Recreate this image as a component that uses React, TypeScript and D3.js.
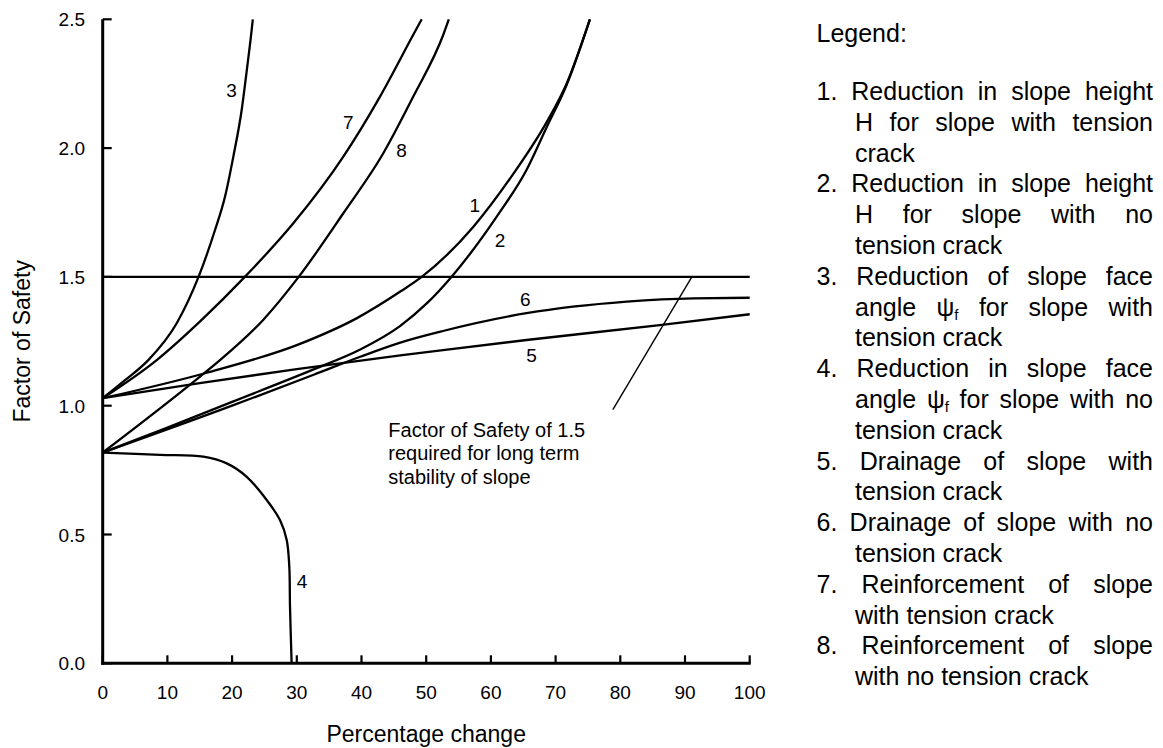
import React, { useMemo } from "react";
import * as d3 from "d3";

const FONT = "'Liberation Sans', Arial, Helvetica, sans-serif";

// ---- axis ticks ----
const xTicks = [0, 10, 20, 30, 40, 50, 60, 70, 80, 90, 100];
const yTicks = [0, 0.5, 1.0, 1.5, 2.0, 2.5];
const requiredFS = 1.5;

// ---- curves: [percentage change, factor of safety] ----
const c1 = [[0, 1.029], [15.8, 1.126], [30.5, 1.24], [39.3, 1.34], [46, 1.443], [49.3, 1.5], [57.3, 1.695], [63.46, 1.9], [68.6, 2.1], [71.7, 2.25], [75.3, 2.5]];
const c2 = [[0, 0.818], [10, 0.915], [20, 1.015], [32.5, 1.14], [39.8, 1.218], [46, 1.31], [50, 1.395], [53.9, 1.5], [60.9, 1.734], [65.5, 1.915], [68.6, 2.08], [71.7, 2.245], [75.3, 2.5]];
const c3 = [[0, 1.029], [3.5, 1.1], [7.05, 1.177], [11.44, 1.32], [14.78, 1.498], [17.36, 1.682], [18.9, 1.811], [20.19, 1.967], [21.48, 2.148], [22.26, 2.3], [23.03, 2.46], [23.2, 2.5]];
const c4 = [[0, 0.818], [8.86, 0.809], [15.55, 0.802], [19.17, 0.776], [22.26, 0.724], [25.35, 0.634], [27.4, 0.556], [28.44, 0.479], [28.84, 0.375], [28.95, 0.22], [29.2, 0]];
const c5 = [[0, 1.029], [15, 1.088], [30, 1.142], [46, 1.195], [52.6, 1.216], [65.5, 1.255], [86.1, 1.313], [100, 1.355]];
const c6 = [[0, 0.818], [20, 1.0], [32.6, 1.12], [39.8, 1.19], [46, 1.245], [52.6, 1.29], [65.5, 1.359], [81, 1.404], [91.3, 1.417], [100, 1.419]];
const c7 = [[0, 1.029], [8.35, 1.177], [15.3, 1.333], [21.89, 1.498], [29.46, 1.708], [37.19, 1.967], [42.86, 2.2], [48.0, 2.44], [49.3, 2.5]];
const c8 = [[0, 0.818], [15.04, 1.113], [18.13, 1.177], [24.8, 1.333], [30.23, 1.498], [37.19, 1.747], [43.37, 1.98], [48.0, 2.2], [52.64, 2.44], [53.5, 2.5]];
const smoothCurves = [c1, c2, c3, c5, c6, c7, c8];
const bentCurves = [c4];

// curve number labels, anchored in data coordinates
const curveLabels = [
  { id: "1", x: 57.5, y: 1.779 },
  { id: "2", x: 61.4, y: 1.643 },
  { id: "3", x: 19.9, y: 2.226 },
  { id: "4", x: 30.8, y: 0.32 },
  { id: "5", x: 66.3, y: 1.197 },
  { id: "6", x: 65.3, y: 1.416 },
  { id: "7", x: 37.96, y: 2.103 },
  { id: "8", x: 46.2, y: 1.992 },
];

// leader line from the 1.5 line to the note
const leader = [[91.06, 1.5], [78.85, 0.985]];
const noteLines = ["Factor of Safety of 1.5", "required for long term", "stability of slope"];

const xTitle = "Percentage change";
const yTitle = "Factor of Safety";
const legendTitle = "Legend:";
const legendItems = [
  { num: "1.", lines: ["Reduction in slope height", "H for slope with tension", "crack"] },
  { num: "2.", lines: ["Reduction in slope height", "H for slope with no", "tension crack"] },
  { num: "3.", lines: ["Reduction of slope face", "angle ψf for slope with", "tension crack"] },
  { num: "4.", lines: ["Reduction in slope face", "angle ψf for slope with no", "tension crack"] },
  { num: "5.", lines: ["Drainage of slope with", "tension crack"] },
  { num: "6.", lines: ["Drainage of slope with no", "tension crack"] },
  { num: "7.", lines: ["Reinforcement of slope", "with tension crack"] },
  { num: "8.", lines: ["Reinforcement of slope", "with no tension crack"] },
];

const W = 1163;
const H = 748;
const LEG_FONT = 25;
const SUB_FONT = 15;
const LEG_NUM_X = 816.5;
const LEG_TEXT_X = 855;
const LEG_RIGHT = 1153;
const LEG_TITLE_Y = 42;
const LEG_FIRST_Y = 100;
const LEG_STEP = 30.8;

let ctx: CanvasRenderingContext2D | null = null;
function measure(t: string, size: number) {
  if (!ctx) ctx = document.createElement("canvas").getContext("2d");
  if (!ctx) return t.length * size * 0.5;
  ctx.font = `${size}px ${FONT}`;
  return ctx.measureText(t).width;
}
function wordWidth(w: string) {
  if (w.includes("ψf")) return measure("ψ", LEG_FONT) + measure("f", SUB_FONT);
  return measure(w, LEG_FONT);
}

function Word({ w, x, y }: { w: string; x: number; y: number }) {
  if (w.includes("ψf")) {
    return (
      <text x={x} y={y} fontSize={LEG_FONT}>
        ψ<tspan fontSize={SUB_FONT} dy={4}>f</tspan>
      </text>
    );
  }
  return (
    <text x={x} y={y} fontSize={LEG_FONT}>
      {w}
    </text>
  );
}

export default function App() {
  const x = d3.scaleLinear().domain([0, 100]).range([102.7, 749.7]);
  const y = d3.scaleLinear().domain([0, 2.5]).range([663.3, 19.3]);
  const smooth = d3
    .line<number[]>()
    .x((d) => x(d[0]))
    .y((d) => y(d[1]))
    .curve(d3.curveMonotoneX);
  const bent = d3
    .line<number[]>()
    .x((d) => x(d[0]))
    .y((d) => y(d[1]))
    .curve(d3.curveCatmullRom.alpha(0.5));

  const legendRows = useMemo(() => {
    const rows: { words: string[]; x0: number; justify: boolean; yb: number }[] = [];
    let i = 0;
    legendItems.forEach((it) => {
      it.lines.forEach((ln, j) => {
        const words = (j === 0 ? [it.num] : []).concat(ln.split(" "));
        rows.push({
          words,
          x0: j === 0 ? LEG_NUM_X : LEG_TEXT_X,
          justify: j < it.lines.length - 1,
          yb: LEG_FIRST_Y + i * LEG_STEP,
        });
        i++;
      });
    });
    return rows.map((r) => {
      const ws = r.words.map(wordWidth);
      const total = ws.reduce((a, b) => a + b, 0);
      const space = measure(" ", LEG_FONT);
      const gap = r.justify && r.words.length > 1 ? (LEG_RIGHT - r.x0 - total) / (r.words.length - 1) : space;
      let cx = r.x0;
      const pos = ws.map((w) => {
        const p = cx;
        cx += w + gap;
        return p;
      });
      return { ...r, pos };
    });
  }, []);

  const axisW = 3;
  return (
    <div style={{ position: "absolute", left: 0, top: 0 }}>
      <svg width={W} height={H} style={{ display: "block", background: "#fff" }} fontFamily={FONT} fill="#000">
        {/* curves */}
        {smoothCurves.map((c, i) => (
          <path key={"s" + i} d={smooth(c) || ""} fill="none" stroke="#000" strokeWidth={2.3} />
        ))}
        {bentCurves.map((c, i) => (
          <path key={"b" + i} d={bent(c) || ""} fill="none" stroke="#000" strokeWidth={2.3} />
        ))}
        {/* FS 1.5 line */}
        <line x1={x(0)} x2={x(100)} y1={y(requiredFS)} y2={y(requiredFS)} stroke="#000" strokeWidth={2.3} />
        {/* leader */}
        <line x1={x(leader[0][0])} y1={y(leader[0][1])} x2={x(leader[1][0])} y2={y(leader[1][1])} stroke="#000" strokeWidth={1.4} />
        {/* axes */}
        <line x1={x(0)} x2={x(0)} y1={y(2.5)} y2={y(0) + axisW / 2} stroke="#000" strokeWidth={axisW} />
        <line x1={x(0) - axisW / 2} x2={x(100) + 1} y1={y(0)} y2={y(0)} stroke="#000" strokeWidth={axisW} />
        {xTicks.map((t) => (
          <g key={"xt" + t}>
            <line x1={x(t)} x2={x(t)} y1={y(0)} y2={y(0) - 8} stroke="#000" strokeWidth={2.2} />
            <text x={x(t)} y={699.3} fontSize={19} textAnchor="middle">
              {t}
            </text>
          </g>
        ))}
        {yTicks.map((t) => (
          <g key={"yt" + t}>
            <line x1={x(0)} x2={x(0) + 9} y1={y(t)} y2={y(t)} stroke="#000" strokeWidth={2.2} />
            <text x={85} y={y(t) + 7} fontSize={19} textAnchor="end">
              {t.toFixed(1)}
            </text>
          </g>
        ))}
        {/* axis titles */}
        <text x={(x(0) + x(100)) / 2} y={741.7} fontSize={23} textAnchor="middle">
          {xTitle}
        </text>
        <text transform={`translate(30,${(y(0) + y(2.5)) / 2}) rotate(-90)`} fontSize={23} textAnchor="middle">
          {yTitle}
        </text>
        {/* curve labels */}
        {curveLabels.map((l) => (
          <text key={"cl" + l.id} x={x(l.x)} y={y(l.y) + 7} fontSize={19} textAnchor="middle">
            {l.id}
          </text>
        ))}
        {/* note */}
        {noteLines.map((t, i) => (
          <text key={"n" + i} x={388.3} y={437 + i * 23.3} fontSize={20}>
            {t}
          </text>
        ))}
        {/* legend */}
        <text x={LEG_NUM_X} y={LEG_TITLE_Y} fontSize={LEG_FONT}>
          {legendTitle}
        </text>
        {legendRows.map((r, i) => (
          <g key={"lg" + i}>
            {r.words.map((w, k) => (
              <Word key={k} w={w} x={r.pos[k]} y={r.yb} />
            ))}
          </g>
        ))}
      </svg>
    </div>
  );
}
